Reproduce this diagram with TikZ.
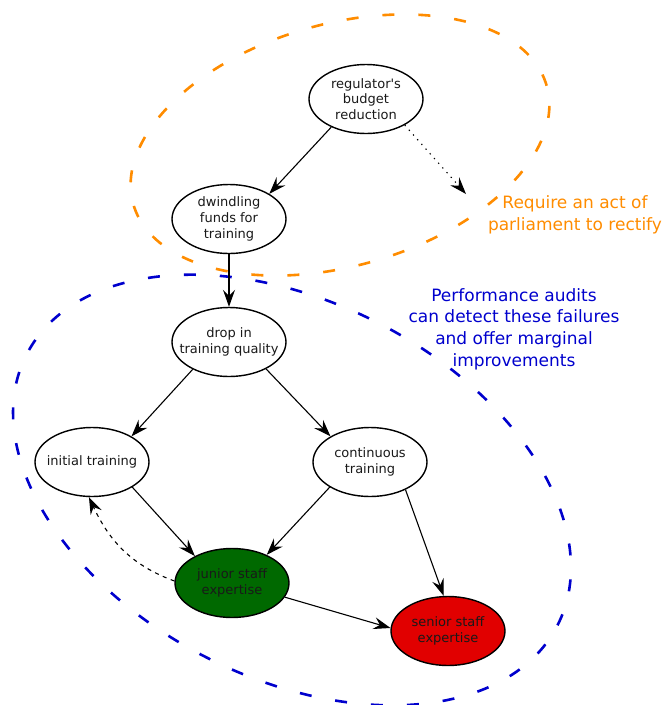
\documentclass[tikz,border=0pt]{standalone}
\usepackage{fontspec}
\newfontfamily\dv{DejaVu Sans}
\usetikzlibrary{shapes.geometric,arrows.meta}
\definecolor{gorange}{RGB}{255,140,0}
\definecolor{gblue}{RGB}{0,0,205}
\definecolor{jgreen}{RGB}{0,105,0}
\definecolor{sred}{RGB}{225,0,0}
\begin{document}
\begin{tikzpicture}[x=1pt,y=-1pt,
  gnode/.style={ellipse,draw,line width=1.4pt,minimum width=114pt,minimum height=69pt,inner sep=0pt},
  ntext/.style={font=\dv\fontsize{13pt}{15.7pt}\selectfont,align=center,text=black!90},
  edge/.style={line width=1.1pt,-{Stealth[length=17pt,width=12pt,inset=6pt]}},
  odash/.style={draw=gorange,line width=2.6pt,dash pattern=on 12pt off 24pt},
  bdash/.style={draw=gblue,line width=2.6pt,dash pattern=on 12pt off 24pt},
  otext/.style={font=\dv\fontsize{17pt}{21.7pt}\selectfont,align=center,text=gorange},
  btext/.style={font=\dv\fontsize{17pt}{21.7pt}\selectfont,align=center,text=gblue},
]
\useasboundingbox (0,0) rectangle (663,705);

% cluster outlines
\draw[odash,rotate around={16:(340,145)}] (340,145) ellipse [x radius=215pt, y radius=121pt];
\draw[bdash,rotate around={-27:(292,490)}] (292,490) ellipse [x radius=298pt, y radius=188pt];

% nodes
\node[gnode,label={[ntext]center:regulator's\\budget\\reduction}] (reg) at (366,99) {};
\node[gnode,label={[ntext]center:dwindling\\funds for\\training}] (dwind) at (229,219) {};
\node[gnode,label={[ntext]center:drop in\\training quality}] (drop) at (229,342) {};
\node[gnode,label={[ntext]center:initial training}] (init) at (92,462) {};
\node[gnode,label={[ntext]center:continuous\\training}] (cont) at (370,462) {};
\node[gnode,fill=jgreen,label={[ntext]center:junior staff\\expertise}] (jun) at (232,583) {};
\node[gnode,fill=sred,label={[ntext]center:senior staff\\expertise}] (sen) at (448,631) {};
\coordinate (parl) at (466,194);

% annotations
\node[otext] (parltext) at (575,215) {Require an act of\\parliament to rectify};
\node[btext] (audit) at (514,329) {Performance audits\\can detect these failures\\and offer marginal\\improvements};

% edges
\draw[edge] (reg.219) -- (dwind.32);
\draw[edge,dash pattern=on 1.3pt off 5pt] (reg.-34) -- (parl);
\draw[edge] (dwind.south) -- (drop.north);
\draw[edge] (drop.217) -- (init.33);
\draw[edge] (drop.-36) -- (cont.147);
\draw[edge] (init.-32) -- (jun.144);
\draw[edge] (cont.212) -- (jun.39);
\draw[edge] (cont.-38) -- (sen.97);
\draw[edge] (jun.-15) -- (sen.177);
\draw[edge,dash pattern=on 4pt off 4.5pt] (jun.178) to[out=160,in=-65] (init.-95);
\end{tikzpicture}
\end{document}
